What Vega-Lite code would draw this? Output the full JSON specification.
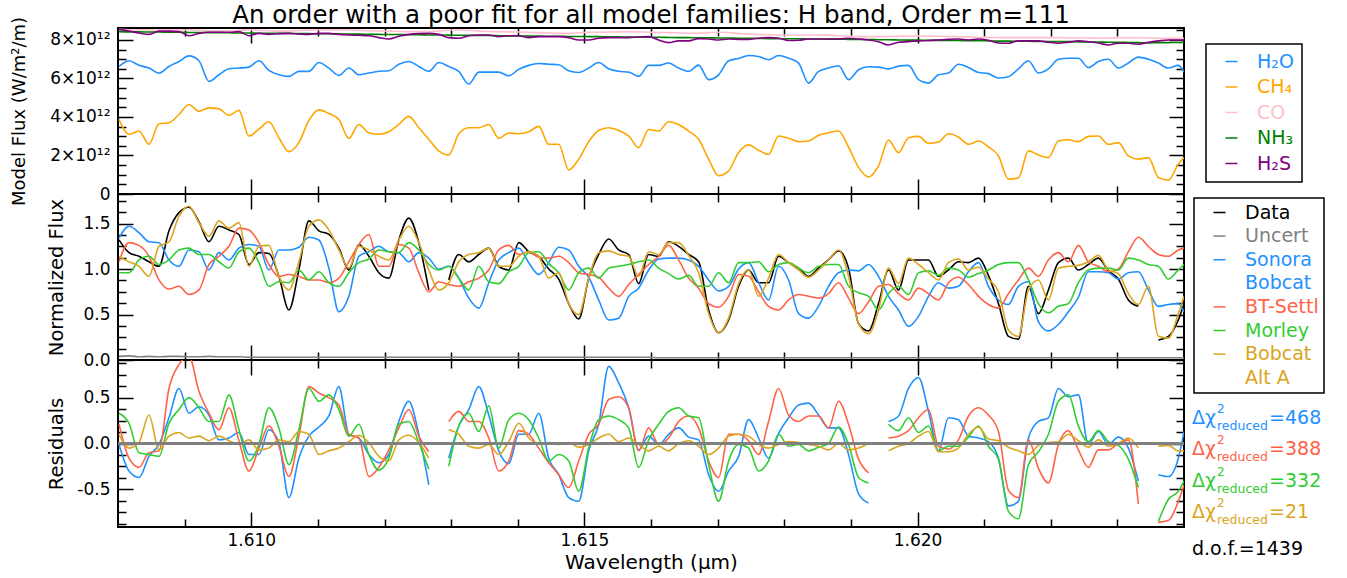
{
"$schema": "https://vega.github.io/schema/vega-lite/v6.json",
"padding": {"left": 9, "top": 1, "right": 5, "bottom": 0},
"bounds": "flush",
"config": {
  "font": "DejaVu Sans",
  "view": {"stroke": "black", "strokeWidth": 2},
  "axis": {"domain": false, "grid": false, "ticks": true, "tickColor": "black", "tickWidth": 1.5, "labelFont": "DejaVu Sans", "labelFontSize": 17, "labelColor": "black", "titleFont": "DejaVu Sans", "titleFontSize": 19.5, "titleFontWeight": "normal", "titleColor": "black", "labelOverlap": false, "labelFlush": false, "labelBound": false, "zindex": 1},
  "legend": {"labelFont": "DejaVu Sans", "labelFontSize": 19, "symbolType": "stroke", "symbolSize": 144, "symbolStrokeWidth": 1.5, "labelOffset": 16, "title": null}
},
"datasets": {
"spec": [
{"w":1.608015,"H2O":6.62,"CH4":3.87,"CO":8.55,"NH3":8.43,"H2S":8.55,"Data":1.32,"Uncert":0.04,"Sonora":1.34,"BTSettl":1.08,"Morley":0.96,"AltA":1.14,"rSonora":-0.01,"rBTSettl":0.21,"rMorley":0.33,"rAltA":0.10},
{"w":1.608165,"H2O":6.92,"CH4":3.10,"CO":8.53,"NH3":8.42,"H2S":8.46,"Data":1.18,"Uncert":0.045,"Sonora":1.47,"BTSettl":1.29,"Morley":0.96,"AltA":1.08,"rSonora":-0.30,"rBTSettl":-0.16,"rMorley":0.22,"rAltA":-0.05},
{"w":1.608315,"H2O":6.68,"CH4":3.27,"CO":8.52,"NH3":8.42,"H2S":8.36,"Data":1.14,"Uncert":0.035,"Sonora":1.40,"BTSettl":1.26,"Morley":1.10,"AltA":1.03,"rSonora":-0.37,"rBTSettl":-0.26,"rMorley":-0.10,"rAltA":0.01},
{"w":1.608465,"H2O":6.54,"CH4":2.58,"CO":8.52,"NH3":8.41,"H2S":8.29,"Data":1.08,"Uncert":0.04,"Sonora":1.30,"BTSettl":1.14,"Morley":1.14,"AltA":0.92,"rSonora":-0.14,"rBTSettl":-0.10,"rMorley":-0.12,"rAltA":0.31},
{"w":1.608615,"H2O":6.28,"CH4":3.65,"CO":8.52,"NH3":8.41,"H2S":8.46,"Data":1.03,"Uncert":0.035,"Sonora":1.29,"BTSettl":0.88,"Morley":1.05,"AltA":1.25,"rSonora":-0.01,"rBTSettl":-0.08,"rMorley":-0.14,"rAltA":-0.07},
{"w":1.608765,"H2O":6.62,"CH4":3.70,"CO":8.52,"NH3":8.40,"H2S":8.46,"Data":1.42,"Uncert":0.04,"Sonora":1.10,"BTSettl":0.78,"Morley":1.10,"AltA":1.30,"rSonora":0.28,"rBTSettl":0.60,"rMorley":0.22,"rAltA":0.08},
{"w":1.608915,"H2O":6.88,"CH4":4.13,"CO":8.52,"NH3":8.40,"H2S":8.43,"Data":1.62,"Uncert":0.04,"Sonora":1.03,"BTSettl":0.81,"Morley":1.21,"AltA":1.58,"rSonora":0.60,"rBTSettl":0.86,"rMorley":0.37,"rAltA":0.12},
{"w":1.609065,"H2O":7.17,"CH4":4.65,"CO":8.52,"NH3":8.39,"H2S":8.22,"Data":1.68,"Uncert":0.035,"Sonora":1.21,"BTSettl":0.72,"Morley":1.23,"AltA":1.69,"rSonora":0.33,"rBTSettl":0.95,"rMorley":0.50,"rAltA":0.06},
{"w":1.609215,"H2O":6.92,"CH4":4.30,"CO":8.50,"NH3":8.39,"H2S":8.34,"Data":1.52,"Uncert":0.035,"Sonora":1.19,"BTSettl":0.77,"Morley":1.16,"AltA":1.51,"rSonora":0.40,"rBTSettl":0.57,"rMorley":0.39,"rAltA":0.08},
{"w":1.609365,"H2O":5.85,"CH4":4.47,"CO":8.48,"NH3":8.38,"H2S":8.40,"Data":1.30,"Uncert":0.04,"Sonora":0.99,"BTSettl":1.05,"Morley":1.16,"AltA":1.36,"rSonora":0.31,"rBTSettl":0.33,"rMorley":0.24,"rAltA":0.03},
{"w":1.609515,"H2O":6.19,"CH4":4.42,"CO":8.47,"NH3":8.38,"H2S":8.40,"Data":1.47,"Uncert":0.035,"Sonora":1.18,"BTSettl":1.14,"Morley":1.08,"AltA":1.53,"rSonora":0.04,"rBTSettl":0.15,"rMorley":0.24,"rAltA":0.08},
{"w":1.609665,"H2O":6.50,"CH4":4.09,"CO":8.48,"NH3":8.37,"H2S":8.40,"Data":1.43,"Uncert":0.035,"Sonora":1.10,"BTSettl":1.25,"Morley":1.01,"AltA":1.45,"rSonora":0.06,"rBTSettl":0.39,"rMorley":0.53,"rAltA":0.03},
{"w":1.609815,"H2O":6.54,"CH4":4.34,"CO":8.50,"NH3":8.36,"H2S":8.43,"Data":1.38,"Uncert":0.035,"Sonora":1.23,"BTSettl":1.45,"Morley":1.19,"AltA":1.51,"rSonora":0.12,"rBTSettl":0.03,"rMorley":0.15,"rAltA":-0.01},
{"w":1.609965,"H2O":6.59,"CH4":3.01,"CO":8.52,"NH3":8.36,"H2S":8.22,"Data":1.05,"Uncert":0.03,"Sonora":1.27,"BTSettl":1.43,"Morley":1.23,"AltA":1.03,"rSonora":-0.12,"rBTSettl":-0.30,"rMorley":-0.19,"rAltA":0.04},
{"w":1.610115,"H2O":6.92,"CH4":3.37,"CO":8.50,"NH3":8.35,"H2S":8.34,"Data":1.18,"Uncert":0.03,"Sonora":1.25,"BTSettl":1.29,"Morley":1.07,"AltA":1.25,"rSonora":-0.12,"rBTSettl":-0.05,"rMorley":-0.01,"rAltA":-0.07},
{"w":1.610265,"H2O":6.42,"CH4":3.75,"CO":8.48,"NH3":8.35,"H2S":8.29,"Data":1.17,"Uncert":0.03,"Sonora":0.99,"BTSettl":1.05,"Morley":0.81,"AltA":1.26,"rSonora":0.15,"rBTSettl":0.19,"rMorley":0.39,"rAltA":-0.05},
{"w":1.610415,"H2O":6.19,"CH4":2.92,"CO":8.46,"NH3":8.34,"H2S":8.33,"Data":0.92,"Uncert":0.03,"Sonora":1.21,"BTSettl":0.92,"Morley":0.86,"AltA":0.92,"rSonora":0.01,"rBTSettl":-0.03,"rMorley":0.17,"rAltA":0.04},
{"w":1.610565,"H2O":6.11,"CH4":2.20,"CO":8.47,"NH3":8.34,"H2S":8.34,"Data":0.55,"Uncert":0.03,"Sonora":1.21,"BTSettl":0.94,"Morley":0.85,"AltA":0.77,"rSonora":-0.59,"rBTSettl":-0.36,"rMorley":-0.23,"rAltA":0.02},
{"w":1.610715,"H2O":6.37,"CH4":2.67,"CO":8.49,"NH3":8.33,"H2S":8.31,"Data":0.99,"Uncert":0.03,"Sonora":1.24,"BTSettl":0.92,"Morley":0.99,"AltA":1.08,"rSonora":-0.16,"rBTSettl":0.08,"rMorley":0.15,"rAltA":0.13},
{"w":1.610865,"H2O":6.37,"CH4":3.82,"CO":8.51,"NH3":8.33,"H2S":8.29,"Data":1.53,"Uncert":0.03,"Sonora":1.35,"BTSettl":0.88,"Morley":0.88,"AltA":1.47,"rSonora":0.08,"rBTSettl":0.62,"rMorley":0.60,"rAltA":0.10},
{"w":1.611015,"H2O":6.83,"CH4":4.37,"CO":8.52,"NH3":8.32,"H2S":8.34,"Data":1.42,"Uncert":0.03,"Sonora":1.32,"BTSettl":0.88,"Morley":0.97,"AltA":1.54,"rSonora":0.18,"rBTSettl":0.55,"rMorley":0.46,"rAltA":-0.12},
{"w":1.611165,"H2O":6.54,"CH4":4.18,"CO":8.52,"NH3":8.32,"H2S":8.34,"Data":1.38,"Uncert":0.03,"Sonora":1.01,"BTSettl":0.85,"Morley":0.85,"AltA":1.43,"rSonora":0.30,"rBTSettl":0.50,"rMorley":0.53,"rAltA":-0.08},
{"w":1.611315,"H2O":6.16,"CH4":3.87,"CO":8.52,"NH3":8.31,"H2S":8.29,"Data":1.23,"Uncert":0.03,"Sonora":0.53,"BTSettl":0.90,"Morley":0.81,"AltA":1.21,"rSonora":0.62,"rBTSettl":0.42,"rMorley":0.37,"rAltA":-0.05},
{"w":1.611465,"H2O":6.54,"CH4":2.89,"CO":8.52,"NH3":8.30,"H2S":8.26,"Data":0.99,"Uncert":0.03,"Sonora":0.70,"BTSettl":1.08,"Morley":0.96,"AltA":1.01,"rSonora":0.10,"rBTSettl":0.10,"rMorley":0.08,"rAltA":0.02},
{"w":1.611615,"H2O":6.19,"CH4":3.61,"CO":8.50,"NH3":8.30,"H2S":8.24,"Data":1.27,"Uncert":0.03,"Sonora":1.14,"BTSettl":1.27,"Morley":1.07,"AltA":1.25,"rSonora":0.06,"rBTSettl":0.06,"rMorley":0.21,"rAltA":0.09},
{"w":1.611765,"H2O":6.28,"CH4":3.18,"CO":8.48,"NH3":8.29,"H2S":8.22,"Data":1.14,"Uncert":0.03,"Sonora":1.19,"BTSettl":1.38,"Morley":1.11,"AltA":1.21,"rSonora":-0.12,"rBTSettl":-0.36,"rMorley":-0.12,"rAltA":0.01},
{"w":1.611915,"H2O":6.37,"CH4":3.10,"CO":8.47,"NH3":8.29,"H2S":8.12,"Data":0.96,"Uncert":0.03,"Sonora":1.25,"BTSettl":1.03,"Morley":1.21,"AltA":1.14,"rSonora":-0.21,"rBTSettl":-0.26,"rMorley":-0.29,"rAltA":-0.14},
{"w":1.612065,"H2O":6.40,"CH4":3.23,"CO":8.46,"NH3":8.28,"H2S":8.05,"Data":0.90,"Uncert":0.03,"Sonora":1.19,"BTSettl":1.03,"Morley":1.19,"AltA":1.10,"rSonora":-0.12,"rBTSettl":-0.07,"rMorley":-0.16,"rAltA":-0.19},
{"w":1.612215,"H2O":6.74,"CH4":3.61,"CO":8.44,"NH3":8.28,"H2S":8.19,"Data":1.32,"Uncert":0.03,"Sonora":1.18,"BTSettl":1.27,"Morley":1.18,"AltA":1.32,"rSonora":0.24,"rBTSettl":0.17,"rMorley":0.21,"rAltA":0.04},
{"w":1.612365,"H2O":6.88,"CH4":4.03,"CO":8.43,"NH3":8.27,"H2S":8.29,"Data":1.56,"Uncert":0.03,"Sonora":1.08,"BTSettl":1.23,"Morley":1.29,"AltA":1.47,"rSonora":0.46,"rBTSettl":0.37,"rMorley":0.24,"rAltA":0.09},
{"w":1.612515,"H2O":6.62,"CH4":3.44,"CO":8.43,"NH3":8.27,"H2S":8.33,"Data":1.29,"Uncert":0.03,"Sonora":1.18,"BTSettl":0.96,"Morley":1.21,"AltA":1.29,"rSonora":0.10,"rBTSettl":0.08,"rMorley":0.01,"rAltA":0.01},
{"w":1.612665,"H2O":6.37,"CH4":2.84,"CO":8.44,"NH3":8.26,"H2S":8.34,"Data":0.77,"Uncert":0.03,"Sonora":1.12,"BTSettl":0.75,"Morley":1.05,"AltA":0.99,"rSonora":-0.45,"rBTSettl":-0.09,"rMorley":-0.28,"rAltA":-0.16},
{"w":1.612815,"H2O":6.83,"CH4":2.24,"CO":8.47,"NH3":8.26,"H2S":8.29,"Data":null,"Uncert":0.03,"Sonora":1.00,"BTSettl":0.86,"Morley":0.99,"AltA":0.77,"rSonora":null,"rBTSettl":null,"rMorley":null,"rAltA":null},
{"w":1.612965,"H2O":6.62,"CH4":2.03,"CO":8.50,"NH3":8.25,"H2S":8.12,"Data":0.88,"Uncert":0.03,"Sonora":1.03,"BTSettl":0.83,"Morley":1.03,"AltA":0.85,"rSonora":-0.16,"rBTSettl":0.24,"rMorley":-0.25,"rAltA":0.15},
{"w":1.613115,"H2O":6.37,"CH4":3.13,"CO":8.52,"NH3":8.24,"H2S":8.09,"Data":1.16,"Uncert":0.03,"Sonora":0.90,"BTSettl":0.81,"Morley":0.90,"AltA":1.08,"rSonora":0.19,"rBTSettl":0.35,"rMorley":0.19,"rAltA":0.10},
{"w":1.613265,"H2O":5.71,"CH4":3.44,"CO":8.50,"NH3":8.24,"H2S":8.22,"Data":1.08,"Uncert":0.03,"Sonora":0.68,"BTSettl":0.86,"Morley":0.77,"AltA":1.16,"rSonora":0.37,"rBTSettl":0.24,"rMorley":0.33,"rAltA":-0.03},
{"w":1.613415,"H2O":6.33,"CH4":3.44,"CO":8.47,"NH3":8.23,"H2S":8.26,"Data":1.16,"Uncert":0.03,"Sonora":0.57,"BTSettl":0.90,"Morley":1.03,"AltA":1.18,"rSonora":0.62,"rBTSettl":0.24,"rMorley":0.13,"rAltA":-0.05},
{"w":1.613565,"H2O":6.33,"CH4":3.61,"CO":8.44,"NH3":8.23,"H2S":8.26,"Data":1.23,"Uncert":0.03,"Sonora":0.85,"BTSettl":0.99,"Morley":0.86,"AltA":1.23,"rSonora":0.31,"rBTSettl":0.06,"rMorley":0.41,"rAltA":-0.01},
{"w":1.613715,"H2O":6.33,"CH4":2.89,"CO":8.43,"NH3":8.22,"H2S":8.17,"Data":1.03,"Uncert":0.03,"Sonora":1.10,"BTSettl":1.21,"Morley":0.84,"AltA":1.03,"rSonora":-0.08,"rBTSettl":-0.30,"rMorley":-0.05,"rAltA":-0.12},
{"w":1.613865,"H2O":6.14,"CH4":3.17,"CO":8.42,"NH3":8.21,"H2S":8.22,"Data":0.99,"Uncert":0.03,"Sonora":1.18,"BTSettl":1.26,"Morley":0.97,"AltA":1.03,"rSonora":-0.22,"rBTSettl":-0.19,"rMorley":0.26,"rAltA":0.02},
{"w":1.614015,"H2O":6.47,"CH4":3.13,"CO":8.41,"NH3":8.21,"H2S":8.22,"Data":1.29,"Uncert":0.03,"Sonora":1.23,"BTSettl":1.16,"Morley":1.03,"AltA":1.14,"rSonora":0.10,"rBTSettl":0.14,"rMorley":0.33,"rAltA":0.22},
{"w":1.614165,"H2O":6.68,"CH4":3.23,"CO":8.40,"NH3":8.20,"H2S":8.12,"Data":1.19,"Uncert":0.03,"Sonora":1.07,"BTSettl":1.19,"Morley":1.18,"AltA":1.19,"rSonora":0.10,"rBTSettl":0.10,"rMorley":0.26,"rAltA":0.06},
{"w":1.614315,"H2O":6.78,"CH4":3.51,"CO":8.38,"NH3":8.20,"H2S":8.17,"Data":1.14,"Uncert":0.03,"Sonora":0.94,"BTSettl":1.13,"Morley":1.19,"AltA":1.14,"rSonora":0.33,"rBTSettl":-0.05,"rMorley":0.06,"rAltA":0.00},
{"w":1.614465,"H2O":6.74,"CH4":2.58,"CO":8.36,"NH3":8.19,"H2S":8.17,"Data":1.00,"Uncert":0.03,"Sonora":1.07,"BTSettl":1.12,"Morley":1.06,"AltA":0.90,"rSonora":-0.16,"rBTSettl":-0.21,"rMorley":-0.19,"rAltA":0.01},
{"w":1.614615,"H2O":6.71,"CH4":2.58,"CO":8.34,"NH3":8.19,"H2S":8.17,"Data":0.89,"Uncert":0.03,"Sonora":1.24,"BTSettl":1.14,"Morley":0.96,"AltA":0.96,"rSonora":-0.34,"rBTSettl":-0.34,"rMorley":-0.12,"rAltA":-0.01},
{"w":1.614765,"H2O":6.40,"CH4":1.25,"CO":8.34,"NH3":8.18,"H2S":8.12,"Data":0.62,"Uncert":0.03,"Sonora":1.21,"BTSettl":1.07,"Morley":0.77,"AltA":0.62,"rSonora":-0.59,"rBTSettl":-0.48,"rMorley":-0.19,"rAltA":0.01},
{"w":1.614915,"H2O":6.31,"CH4":1.81,"CO":8.37,"NH3":8.18,"H2S":8.00,"Data":0.45,"Uncert":0.03,"Sonora":1.03,"BTSettl":0.96,"Morley":0.96,"AltA":0.50,"rSonora":-0.63,"rBTSettl":-0.19,"rMorley":-0.52,"rAltA":-0.04},
{"w":1.615065,"H2O":6.54,"CH4":2.72,"CO":8.40,"NH3":8.17,"H2S":8.00,"Data":0.90,"Uncert":0.03,"Sonora":0.91,"BTSettl":0.94,"Morley":1.01,"AltA":0.90,"rSonora":-0.08,"rBTSettl":0.10,"rMorley":-0.05,"rAltA":-0.01},
{"w":1.615215,"H2O":6.83,"CH4":3.30,"CO":8.40,"NH3":8.17,"H2S":8.09,"Data":1.16,"Uncert":0.03,"Sonora":0.66,"BTSettl":0.91,"Morley":0.90,"AltA":1.18,"rSonora":0.21,"rBTSettl":0.21,"rMorley":0.26,"rAltA":0.06},
{"w":1.615365,"H2O":6.50,"CH4":3.44,"CO":8.41,"NH3":8.16,"H2S":8.12,"Data":1.33,"Uncert":0.03,"Sonora":0.44,"BTSettl":0.79,"Morley":1.01,"AltA":1.20,"rSonora":0.84,"rBTSettl":0.48,"rMorley":0.30,"rAltA":0.10},
{"w":1.615515,"H2O":6.37,"CH4":3.30,"CO":8.42,"NH3":8.16,"H2S":8.12,"Data":1.21,"Uncert":0.03,"Sonora":0.46,"BTSettl":0.70,"Morley":1.03,"AltA":1.16,"rSonora":0.66,"rBTSettl":0.51,"rMorley":0.26,"rAltA":0.02},
{"w":1.615665,"H2O":6.33,"CH4":3.01,"CO":8.43,"NH3":8.15,"H2S":8.12,"Data":1.16,"Uncert":0.03,"Sonora":0.70,"BTSettl":0.83,"Morley":1.05,"AltA":1.14,"rSonora":0.39,"rBTSettl":0.39,"rMorley":0.17,"rAltA":0.06},
{"w":1.615815,"H2O":6.11,"CH4":2.41,"CO":8.42,"NH3":8.15,"H2S":8.15,"Data":0.84,"Uncert":0.03,"Sonora":0.79,"BTSettl":0.94,"Morley":1.08,"AltA":0.92,"rSonora":-0.07,"rBTSettl":-0.08,"rMorley":-0.26,"rAltA":-0.01},
{"w":1.615965,"H2O":6.68,"CH4":3.35,"CO":8.40,"NH3":8.14,"H2S":8.17,"Data":1.16,"Uncert":0.03,"Sonora":0.99,"BTSettl":1.05,"Morley":1.10,"AltA":1.19,"rSonora":0.08,"rBTSettl":0.17,"rMorley":0.04,"rAltA":-0.08},
{"w":1.616115,"H2O":6.68,"CH4":3.27,"CO":8.39,"NH3":8.14,"H2S":8.00,"Data":1.14,"Uncert":0.025,"Sonora":1.11,"BTSettl":1.14,"Morley":1.01,"AltA":1.16,"rSonora":-0.01,"rBTSettl":-0.01,"rMorley":0.21,"rAltA":-0.03},
{"w":1.616265,"H2O":6.80,"CH4":3.75,"CO":8.38,"NH3":8.13,"H2S":7.86,"Data":1.30,"Uncert":0.025,"Sonora":1.12,"BTSettl":1.26,"Morley":0.95,"AltA":1.29,"rSonora":0.10,"rBTSettl":0.06,"rMorley":0.35,"rAltA":-0.08},
{"w":1.616415,"H2O":6.54,"CH4":3.61,"CO":8.36,"NH3":8.12,"H2S":7.95,"Data":1.25,"Uncert":0.025,"Sonora":1.12,"BTSettl":1.10,"Morley":0.89,"AltA":1.29,"rSonora":0.17,"rBTSettl":0.24,"rMorley":0.39,"rAltA":0.00},
{"w":1.616565,"H2O":6.37,"CH4":3.27,"CO":8.35,"NH3":8.12,"H2S":7.95,"Data":1.16,"Uncert":0.025,"Sonora":1.10,"BTSettl":0.90,"Morley":0.93,"AltA":1.15,"rSonora":0.07,"rBTSettl":0.30,"rMorley":0.30,"rAltA":0.03},
{"w":1.616715,"H2O":6.69,"CH4":2.84,"CO":8.36,"NH3":8.11,"H2S":8.07,"Data":1.08,"Uncert":0.025,"Sonora":1.03,"BTSettl":0.79,"Morley":0.81,"AltA":0.96,"rSonora":0.04,"rBTSettl":0.17,"rMorley":0.28,"rAltA":-0.03},
{"w":1.616865,"H2O":5.94,"CH4":1.81,"CO":8.38,"NH3":8.11,"H2S":8.05,"Data":0.55,"Uncert":0.025,"Sonora":0.88,"BTSettl":0.62,"Morley":0.81,"AltA":0.51,"rSonora":-0.34,"rBTSettl":-0.19,"rMorley":-0.23,"rAltA":-0.12},
{"w":1.617015,"H2O":6.19,"CH4":0.95,"CO":8.40,"NH3":8.10,"H2S":8.00,"Data":0.30,"Uncert":0.025,"Sonora":0.76,"BTSettl":0.58,"Morley":0.96,"AltA":0.30,"rSonora":-0.52,"rBTSettl":-0.37,"rMorley":-0.63,"rAltA":-0.05},
{"w":1.617165,"H2O":6.92,"CH4":1.20,"CO":8.38,"NH3":8.10,"H2S":8.05,"Data":0.44,"Uncert":0.025,"Sonora":0.81,"BTSettl":0.70,"Morley":0.85,"AltA":0.46,"rSonora":-0.30,"rBTSettl":0.10,"rMorley":-0.19,"rAltA":0.08},
{"w":1.617315,"H2O":7.04,"CH4":2.15,"CO":8.34,"NH3":8.09,"H2S":8.03,"Data":0.81,"Uncert":0.025,"Sonora":1.00,"BTSettl":0.94,"Morley":1.07,"AltA":0.84,"rSonora":-0.14,"rBTSettl":0.10,"rMorley":-0.01,"rAltA":0.10},
{"w":1.617465,"H2O":7.19,"CH4":2.55,"CO":8.30,"NH3":8.09,"H2S":8.02,"Data":0.99,"Uncert":0.025,"Sonora":1.07,"BTSettl":0.92,"Morley":1.07,"AltA":0.99,"rSonora":0.26,"rBTSettl":0.03,"rMorley":-0.05,"rAltA":0.08},
{"w":1.617615,"H2O":7.14,"CH4":2.27,"CO":8.28,"NH3":8.08,"H2S":8.09,"Data":0.85,"Uncert":0.025,"Sonora":0.85,"BTSettl":0.75,"Morley":1.08,"AltA":0.70,"rSonora":0.06,"rBTSettl":-0.12,"rMorley":-0.30,"rAltA":-0.01},
{"w":1.617765,"H2O":6.97,"CH4":2.06,"CO":8.27,"NH3":8.07,"H2S":8.12,"Data":0.85,"Uncert":0.025,"Sonora":0.66,"BTSettl":0.59,"Morley":0.97,"AltA":0.90,"rSonora":-0.16,"rBTSettl":0.24,"rMorley":-0.19,"rAltA":-0.05},
{"w":1.617915,"H2O":7.19,"CH4":3.01,"CO":8.26,"NH3":8.07,"H2S":8.09,"Data":1.14,"Uncert":0.025,"Sonora":1.03,"BTSettl":0.55,"Morley":1.05,"AltA":1.16,"rSonora":0.11,"rBTSettl":0.60,"rMorley":0.10,"rAltA":-0.01},
{"w":1.618065,"H2O":7.05,"CH4":2.89,"CO":8.26,"NH3":8.06,"H2S":7.97,"Data":1.07,"Uncert":0.025,"Sonora":0.88,"BTSettl":0.66,"Morley":1.07,"AltA":1.07,"rSonora":0.28,"rBTSettl":0.31,"rMorley":-0.03,"rAltA":0.02},
{"w":1.618215,"H2O":6.80,"CH4":2.72,"CO":8.26,"NH3":8.06,"H2S":7.98,"Data":1.01,"Uncert":0.025,"Sonora":0.51,"BTSettl":0.72,"Morley":1.01,"AltA":0.99,"rSonora":0.42,"rBTSettl":0.24,"rMorley":-0.01,"rAltA":0.01},
{"w":1.618365,"H2O":5.76,"CH4":2.75,"CO":8.26,"NH3":8.05,"H2S":8.05,"Data":0.92,"Uncert":0.025,"Sonora":0.46,"BTSettl":0.70,"Morley":0.96,"AltA":0.91,"rSonora":0.44,"rBTSettl":0.30,"rMorley":-0.08,"rAltA":-0.01},
{"w":1.618515,"H2O":6.37,"CH4":3.05,"CO":8.26,"NH3":8.05,"H2S":8.05,"Data":1.01,"Uncert":0.025,"Sonora":0.59,"BTSettl":0.68,"Morley":1.03,"AltA":0.99,"rSonora":0.31,"rBTSettl":0.30,"rMorley":-0.04,"rAltA":-0.03},
{"w":1.618665,"H2O":6.54,"CH4":3.18,"CO":8.25,"NH3":8.04,"H2S":8.05,"Data":1.10,"Uncert":0.025,"Sonora":0.81,"BTSettl":0.73,"Morley":1.05,"AltA":1.10,"rSonora":0.17,"rBTSettl":0.17,"rMorley":0.00,"rAltA":-0.07},
{"w":1.618815,"H2O":6.66,"CH4":3.27,"CO":8.22,"NH3":8.04,"H2S":8.05,"Data":1.20,"Uncert":0.025,"Sonora":0.96,"BTSettl":0.85,"Morley":1.05,"AltA":1.21,"rSonora":0.17,"rBTSettl":0.46,"rMorley":0.18,"rAltA":0.00},
{"w":1.618965,"H2O":5.94,"CH4":2.44,"CO":8.19,"NH3":8.03,"H2S":8.09,"Data":1.01,"Uncert":0.025,"Sonora":0.99,"BTSettl":0.68,"Morley":0.81,"AltA":0.92,"rSonora":-0.12,"rBTSettl":0.21,"rMorley":-0.01,"rAltA":-0.07},
{"w":1.619115,"H2O":6.45,"CH4":1.38,"CO":8.17,"NH3":8.02,"H2S":8.05,"Data":0.40,"Uncert":0.025,"Sonora":0.98,"BTSettl":0.51,"Morley":0.74,"AltA":0.40,"rSonora":-0.55,"rBTSettl":-0.17,"rMorley":-0.37,"rAltA":-0.05},
{"w":1.619265,"H2O":6.61,"CH4":0.89,"CO":8.17,"NH3":8.02,"H2S":8.00,"Data":0.32,"Uncert":0.025,"Sonora":1.05,"BTSettl":0.64,"Morley":0.70,"AltA":0.29,"rSonora":-0.65,"rBTSettl":-0.32,"rMorley":-0.43,"rAltA":0.00},
{"w":1.619415,"H2O":6.59,"CH4":1.46,"CO":8.17,"NH3":8.01,"H2S":7.91,"Data":0.62,"Uncert":0.025,"Sonora":0.92,"BTSettl":0.81,"Morley":0.55,"AltA":0.55,"rSonora":null,"rBTSettl":null,"rMorley":null,"rAltA":null},
{"w":1.619565,"H2O":6.50,"CH4":2.80,"CO":8.18,"NH3":8.01,"H2S":7.74,"Data":0.99,"Uncert":0.025,"Sonora":0.70,"BTSettl":0.83,"Morley":0.73,"AltA":1.01,"rSonora":0.24,"rBTSettl":0.06,"rMorley":0.21,"rAltA":-0.08},
{"w":1.619715,"H2O":6.64,"CH4":2.15,"CO":8.19,"NH3":8.00,"H2S":7.88,"Data":0.77,"Uncert":0.025,"Sonora":0.55,"BTSettl":0.73,"Morley":0.81,"AltA":0.84,"rSonora":0.30,"rBTSettl":0.08,"rMorley":0.14,"rAltA":-0.03},
{"w":1.619865,"H2O":6.68,"CH4":2.92,"CO":8.20,"NH3":7.99,"H2S":7.91,"Data":1.10,"Uncert":0.025,"Sonora":0.37,"BTSettl":0.66,"Morley":0.72,"AltA":1.12,"rSonora":0.60,"rBTSettl":0.14,"rMorley":0.28,"rAltA":0.00},
{"w":1.620015,"H2O":5.94,"CH4":2.99,"CO":8.21,"NH3":7.99,"H2S":7.95,"Data":1.10,"Uncert":0.025,"Sonora":0.48,"BTSettl":0.79,"Morley":0.96,"AltA":1.05,"rSonora":0.72,"rBTSettl":0.28,"rMorley":0.12,"rAltA":0.08},
{"w":1.620165,"H2O":5.76,"CH4":2.63,"CO":8.20,"NH3":7.98,"H2S":7.97,"Data":1.10,"Uncert":0.025,"Sonora":0.70,"BTSettl":0.73,"Morley":0.98,"AltA":0.96,"rSonora":0.35,"rBTSettl":0.37,"rMorley":0.19,"rAltA":0.13},
{"w":1.620315,"H2O":6.19,"CH4":2.70,"CO":8.19,"NH3":7.98,"H2S":8.00,"Data":0.92,"Uncert":0.025,"Sonora":0.85,"BTSettl":0.66,"Morley":0.93,"AltA":0.88,"rSonora":-0.08,"rBTSettl":-0.03,"rMorley":-0.08,"rAltA":-0.09},
{"w":1.620465,"H2O":6.28,"CH4":3.13,"CO":8.18,"NH3":7.97,"H2S":8.03,"Data":0.99,"Uncert":0.025,"Sonora":0.79,"BTSettl":0.85,"Morley":1.01,"AltA":1.07,"rSonora":0.28,"rBTSettl":-0.06,"rMorley":-0.03,"rAltA":-0.09},
{"w":1.620615,"H2O":6.74,"CH4":2.96,"CO":8.17,"NH3":7.97,"H2S":8.05,"Data":1.08,"Uncert":0.025,"Sonora":0.81,"BTSettl":0.91,"Morley":0.99,"AltA":1.11,"rSonora":0.26,"rBTSettl":0.04,"rMorley":-0.03,"rAltA":-0.05},
{"w":1.620765,"H2O":6.57,"CH4":2.58,"CO":8.16,"NH3":7.96,"H2S":8.00,"Data":1.07,"Uncert":0.025,"Sonora":0.97,"BTSettl":0.83,"Morley":0.91,"AltA":0.99,"rSonora":0.08,"rBTSettl":0.30,"rMorley":0.07,"rAltA":0.10},
{"w":1.620915,"H2O":6.31,"CH4":2.75,"CO":8.14,"NH3":7.96,"H2S":8.05,"Data":1.12,"Uncert":0.025,"Sonora":1.07,"BTSettl":0.70,"Morley":0.95,"AltA":1.02,"rSonora":0.06,"rBTSettl":0.39,"rMorley":0.19,"rAltA":0.18},
{"w":1.621065,"H2O":6.25,"CH4":2.44,"CO":8.13,"NH3":7.95,"H2S":7.98,"Data":0.93,"Uncert":0.025,"Sonora":0.81,"BTSettl":0.61,"Morley":0.99,"AltA":0.89,"rSonora":0.02,"rBTSettl":0.31,"rMorley":-0.03,"rAltA":0.05},
{"w":1.621215,"H2O":6.02,"CH4":1.98,"CO":8.12,"NH3":7.94,"H2S":7.84,"Data":0.62,"Uncert":0.025,"Sonora":0.66,"BTSettl":0.57,"Morley":1.05,"AltA":0.75,"rSonora":-0.16,"rBTSettl":0.13,"rMorley":-0.17,"rAltA":0.03},
{"w":1.621365,"H2O":6.09,"CH4":0.77,"CO":8.12,"NH3":7.94,"H2S":7.83,"Data":0.26,"Uncert":0.025,"Sonora":0.61,"BTSettl":0.73,"Morley":1.07,"AltA":0.33,"rSonora":-0.68,"rBTSettl":-0.51,"rMorley":-0.74,"rAltA":-0.04},
{"w":1.621515,"H2O":6.50,"CH4":0.83,"CO":8.12,"NH3":7.93,"H2S":7.95,"Data":0.23,"Uncert":0.025,"Sonora":0.81,"BTSettl":0.88,"Morley":1.07,"AltA":0.26,"rSonora":-0.63,"rBTSettl":-0.59,"rMorley":-0.82,"rAltA":-0.08},
{"w":1.621665,"H2O":6.92,"CH4":2.24,"CO":8.12,"NH3":7.93,"H2S":7.95,"Data":0.81,"Uncert":0.025,"Sonora":0.86,"BTSettl":1.01,"Morley":0.88,"AltA":0.77,"rSonora":0.06,"rBTSettl":0.04,"rMorley":-0.23,"rAltA":-0.12},
{"w":1.621815,"H2O":6.28,"CH4":2.03,"CO":8.12,"NH3":7.92,"H2S":7.95,"Data":0.51,"Uncert":0.025,"Sonora":0.42,"BTSettl":0.92,"Morley":0.62,"AltA":0.88,"rSonora":0.24,"rBTSettl":-0.27,"rMorley":-0.09,"rAltA":-0.02},
{"w":1.621965,"H2O":6.50,"CH4":1.89,"CO":8.12,"NH3":7.92,"H2S":7.88,"Data":0.77,"Uncert":0.025,"Sonora":0.32,"BTSettl":1.10,"Morley":0.52,"AltA":0.66,"rSonora":0.28,"rBTSettl":-0.43,"rMorley":0.10,"rAltA":0.01},
{"w":1.622115,"H2O":7.00,"CH4":2.75,"CO":8.12,"NH3":7.91,"H2S":7.83,"Data":1.07,"Uncert":0.025,"Sonora":0.39,"BTSettl":1.18,"Morley":0.59,"AltA":1.01,"rSonora":0.60,"rBTSettl":-0.01,"rMorley":0.46,"rAltA":0.02},
{"w":1.622265,"H2O":7.05,"CH4":2.82,"CO":8.11,"NH3":7.91,"H2S":7.88,"Data":1.12,"Uncert":0.025,"Sonora":0.53,"BTSettl":1.08,"Morley":0.62,"AltA":1.03,"rSonora":0.51,"rBTSettl":0.14,"rMorley":0.53,"rAltA":0.10},
{"w":1.622415,"H2O":7.05,"CH4":2.72,"CO":8.10,"NH3":7.90,"H2S":7.95,"Data":0.99,"Uncert":0.025,"Sonora":0.69,"BTSettl":1.26,"Morley":0.85,"AltA":1.04,"rSonora":0.53,"rBTSettl":-0.07,"rMorley":0.19,"rAltA":0.03},
{"w":1.622565,"H2O":6.57,"CH4":2.99,"CO":8.10,"NH3":7.89,"H2S":7.91,"Data":1.05,"Uncert":0.025,"Sonora":0.97,"BTSettl":1.08,"Morley":0.99,"AltA":1.08,"rSonora":-0.01,"rBTSettl":-0.26,"rMorley":0.02,"rAltA":-0.04},
{"w":1.622715,"H2O":6.88,"CH4":3.01,"CO":8.09,"NH3":7.89,"H2S":7.84,"Data":1.12,"Uncert":0.025,"Sonora":0.97,"BTSettl":1.03,"Morley":1.01,"AltA":1.15,"rSonora":0.13,"rBTSettl":-0.07,"rMorley":0.14,"rAltA":0.04},
{"w":1.622865,"H2O":7.00,"CH4":2.58,"CO":8.10,"NH3":7.88,"H2S":7.74,"Data":0.98,"Uncert":0.025,"Sonora":0.96,"BTSettl":0.97,"Morley":1.01,"AltA":0.99,"rSonora":-0.01,"rBTSettl":-0.07,"rMorley":0.02,"rAltA":-0.03},
{"w":1.623015,"H2O":6.54,"CH4":2.67,"CO":8.11,"NH3":7.88,"H2S":7.83,"Data":0.89,"Uncert":0.025,"Sonora":0.89,"BTSettl":1.00,"Morley":0.99,"AltA":0.95,"rSonora":0.07,"rBTSettl":0.00,"rMorley":-0.02,"rAltA":0.00},
{"w":1.623165,"H2O":6.80,"CH4":1.98,"CO":8.12,"NH3":7.87,"H2S":7.83,"Data":0.66,"Uncert":0.025,"Sonora":0.96,"BTSettl":1.19,"Morley":1.12,"AltA":0.73,"rSonora":-0.05,"rBTSettl":0.04,"rMorley":-0.17,"rAltA":0.06},
{"w":1.623315,"H2O":7.11,"CH4":1.81,"CO":8.11,"NH3":7.86,"H2S":7.78,"Data":0.59,"Uncert":0.025,"Sonora":0.97,"BTSettl":1.35,"Morley":1.10,"AltA":0.61,"rSonora":-0.41,"rBTSettl":-0.66,"rMorley":-0.48,"rAltA":-0.05},
{"w":1.623465,"H2O":7.00,"CH4":1.89,"CO":8.10,"NH3":7.85,"H2S":7.88,"Data":null,"Uncert":0.025,"Sonora":0.77,"BTSettl":1.25,"Morley":1.05,"AltA":0.81,"rSonora":null,"rBTSettl":null,"rMorley":null,"rAltA":null},
{"w":1.623615,"H2O":6.80,"CH4":0.86,"CO":8.09,"NH3":7.86,"H2S":7.95,"Data":0.22,"Uncert":0.025,"Sonora":0.59,"BTSettl":1.16,"Morley":1.03,"AltA":0.26,"rSonora":-0.34,"rBTSettl":-0.86,"rMorley":-0.85,"rAltA":-0.03},
{"w":1.623765,"H2O":6.54,"CH4":0.72,"CO":8.09,"NH3":7.86,"H2S":8.00,"Data":0.26,"Uncert":0.025,"Sonora":0.61,"BTSettl":1.14,"Morley":0.89,"AltA":0.24,"rSonora":-0.36,"rBTSettl":-0.84,"rMorley":-0.61,"rAltA":-0.02},
{"w":1.623915,"H2O":6.68,"CH4":1.55,"CO":8.09,"NH3":7.87,"H2S":8.00,"Data":0.44,"Uncert":0.025,"Sonora":0.62,"BTSettl":1.21,"Morley":0.99,"AltA":0.51,"rSonora":-0.16,"rBTSettl":-0.63,"rMorley":-0.52,"rAltA":-0.08},
{"w":1.624,"H2O":6.33,"CH4":1.89,"CO":8.09,"NH3":7.87,"H2S":8.00,"Data":0.62,"Uncert":0.025,"Sonora":0.53,"BTSettl":1.23,"Morley":1.05,"AltA":0.70,"rSonora":0.13,"rBTSettl":-0.45,"rMorley":-0.41,"rAltA":-0.08}
],
"chi": [
{"model":"Sonora","chi2":468,"row":1},
{"model":"BTSettl","chi2":388,"row":2},
{"model":"Morley","chi2":332,"row":3},
{"model":"AltA","chi2":21,"row":4}
],
"dof": [{"label":"d.o.f.=1439","row":5}]
},
"spacing": 0,
"resolve": {"scale": {"color": "independent", "y": "independent"}},
"vconcat": [
{
  "data": {"name": "spec"},
  "transform": [{"fold": ["H2O","CH4","CO","NH3","H2S"], "as": ["model","flux"]}],
  "width": 1066, "height": 166,
  "title": {"text": "An order with a poor fit for all model families: H band, Order m=111", "anchor": "middle", "frame": "group", "fontSize": 24.5, "fontWeight": "normal", "color": "black", "offset": 0, "dy": 12},
  "layer": [
    {"mark": {"type": "line", "strokeWidth": 1.6, "interpolate": "monotone", "clip": true},
     "encoding": {
       "x": {"field": "w", "type": "quantitative", "scale": {"domain": [1.608, 1.624], "nice": false, "zero": false},
             "axis": {"orient": "bottom", "values": [1.609,1.61,1.611,1.612,1.613,1.614,1.615,1.616,1.617,1.618,1.619,1.62,1.621,1.622,1.623], "labels": false, "title": null, "tickSize": {"condition": {"test": "round(datum.value*1000) % 5 == 0", "value": -15}, "value": -8}}},
       "y": {"field": "flux", "type": "quantitative", "scale": {"domain": [0, 8.62], "nice": false, "zero": false},
             "axis": {"orient": "left", "values": [0,0.5,1,1.5,2,2.5,3,3.5,4,4.5,5,5.5,6,6.5,7,7.5,8], "title": "Model Flux (W/m²/m)", "titleFontSize": 18, "labelExpr": "datum.value % 2 == 0 ? (datum.value == 0 ? '0' : datum.value + '×10¹²') : ''", "tickSize": {"condition": {"test": "datum.value % 2 == 0", "value": -15}, "value": -8}, "labelPadding": 23, "titlePadding": 21}},
       "color": {"field": "model", "type": "nominal",
                 "scale": {"domain": ["H2O","CH4","CO","NH3","H2S"], "range": ["#1E90FF","#FFA500","#FFC0CB","#008000","#800080"]},
                 "legend": {"orient": "none", "legendX": 1088, "legendY": 16, "padding": 8, "symbolOffset": 8, "rowPadding": 5.5,
                            "labelExpr": "datum.value=='H2O'?'H₂O':datum.value=='CH4'?'CH₄':datum.value=='NH3'?'NH₃':datum.value=='H2S'?'H₂S':datum.value",
                            "encode": {"labels": {"update": {"fill": {"signal": "datum.value=='H2O'?'#1E90FF':datum.value=='CH4'?'#FFA500':datum.value=='CO'?'#FFC0CB':datum.value=='NH3'?'#008000':'#800080'"}}},
                                       "legend": {"update": {"stroke": {"value": "black"}, "strokeWidth": {"value": 1.5}}}}}}
     }},
    {"mark": {"type": "line", "opacity": 0},
     "encoding": {
       "x": {"field": "w", "type": "quantitative", "axis": {"orient": "top", "values": [1.609,1.61,1.611,1.612,1.613,1.614,1.615,1.616,1.617,1.618,1.619,1.62,1.621,1.622,1.623], "labels": false, "title": null, "tickSize": {"condition": {"test": "round(datum.value*1000) % 5 == 0", "value": -15}, "value": -8}}},
       "y": {"field": "flux", "type": "quantitative", "axis": {"orient": "right", "values": [0,0.5,1,1.5,2,2.5,3,3.5,4,4.5,5,5.5,6,6.5,7,7.5,8,8.5], "labels": false, "title": null, "tickSize": {"condition": {"test": "datum.value % 2 == 0", "value": -15}, "value": -8}}}
     }}
  ],
  "resolve": {"axis": {"x": "independent", "y": "independent"}}
},
{
  "data": {"name": "spec"},
  "transform": [{"fold": ["Uncert","Data","Sonora","BTSettl","Morley","AltA"], "as": ["model","flux"]}],
  "width": 1066, "height": 166,
  "layer": [
    {"mark": {"type": "line", "strokeWidth": 1.6, "interpolate": "monotone", "clip": true, "invalid": "break-paths-show-domains"},
     "encoding": {
       "x": {"field": "w", "type": "quantitative", "scale": {"domain": [1.608, 1.624], "nice": false, "zero": false},
             "axis": {"orient": "bottom", "values": [1.609,1.61,1.611,1.612,1.613,1.614,1.615,1.616,1.617,1.618,1.619,1.62,1.621,1.622,1.623], "labels": false, "title": null, "tickSize": {"condition": {"test": "round(datum.value*1000) % 5 == 0", "value": -15}, "value": -8}}},
       "y": {"field": "flux", "type": "quantitative", "scale": {"domain": [0, 1.825], "nice": false, "zero": false},
             "axis": {"orient": "left", "values": [0,0.125,0.25,0.375,0.5,0.625,0.75,0.875,1,1.125,1.25,1.375,1.5,1.625,1.75], "title": "Normalized Flux", "labelExpr": "round(datum.value*1000) % 500 == 0 ? format(datum.value, '.1f') : ''", "tickSize": {"condition": {"test": "round(datum.value*1000) % 500 == 0", "value": -15}, "value": -8}, "labelPadding": 23, "titlePadding": 16}},
       "color": {"field": "model", "type": "nominal",
                 "scale": {"domain": ["Data","Uncert","Sonora","Bobcat2","BTSettl","Morley","AltA","AltA2"], "range": ["#000000","#808080","#1E90FF","#1E90FF","#FF6347","#32CD32","#DAA520","#DAA520"]},
                 "legend": {"orient": "none", "legendX": 1076, "legendY": 4, "padding": 5, "symbolOffset": 11, "rowPadding": 3.6,
                            "labelExpr": "datum.value=='Bobcat2'?'Bobcat':datum.value=='BTSettl'?'BT-Settl':datum.value=='AltA'?'Bobcat':datum.value=='AltA2'?'Alt A':datum.value",
                            "encode": {"labels": {"update": {"fill": {"signal": "datum.value=='Data'?'#000000':datum.value=='Uncert'?'#808080':(datum.value=='Sonora'||datum.value=='Bobcat2')?'#1E90FF':datum.value=='BTSettl'?'#FF6347':datum.value=='Morley'?'#32CD32':'#DAA520'"}}},
                                       "symbols": {"update": {"opacity": {"signal": "(datum.value=='Bobcat2'||datum.value=='AltA2')?0:1"}}},
                                       "legend": {"update": {"stroke": {"value": "black"}, "strokeWidth": {"value": 1.5}}}}}}
     }},
    {"mark": {"type": "line", "opacity": 0},
     "encoding": {
       "x": {"field": "w", "type": "quantitative", "axis": {"orient": "top", "values": [1.609,1.61,1.611,1.612,1.613,1.614,1.615,1.616,1.617,1.618,1.619,1.62,1.621,1.622,1.623], "labels": false, "title": null, "tickSize": {"condition": {"test": "round(datum.value*1000) % 5 == 0", "value": -15}, "value": -8}}},
       "y": {"field": "flux", "type": "quantitative", "axis": {"orient": "right", "values": [0,0.125,0.25,0.375,0.5,0.625,0.75,0.875,1,1.125,1.25,1.375,1.5,1.625,1.75], "labels": false, "title": null, "tickSize": {"condition": {"test": "round(datum.value*1000) % 500 == 0", "value": -15}, "value": -8}}}
     }}
  ],
  "resolve": {"axis": {"x": "independent", "y": "independent"}}
},
{
  "spacing": 0,
  "bounds": "flush",
  "resolve": {"scale": {"color": "independent", "y": "independent"}},
  "hconcat": [
    {
      "data": {"name": "spec"},
      "transform": [{"fold": ["rSonora","rBTSettl","rMorley","rAltA"], "as": ["model","resid"]}],
      "width": 1066, "height": 167,
      "layer": [
        {"mark": {"type": "line", "strokeWidth": 1.6, "interpolate": "monotone", "clip": true, "invalid": "break-paths-show-domains"},
         "encoding": {
           "x": {"field": "w", "type": "quantitative", "scale": {"domain": [1.608, 1.624], "nice": false, "zero": false},
                 "axis": {"orient": "bottom", "values": [1.609,1.61,1.611,1.612,1.613,1.614,1.615,1.616,1.617,1.618,1.619,1.62,1.621,1.622,1.623], "title": "Wavelength (μm)", "titleFontSize": 20, "labelExpr": "round(datum.value*1000) % 5 == 0 ? format(datum.value, '.3f') : ''", "tickSize": {"condition": {"test": "round(datum.value*1000) % 5 == 0", "value": -15}, "value": -8}, "labelPadding": 20, "titlePadding": -3}},
           "y": {"field": "resid", "type": "quantitative", "scale": {"domain": [-0.91, 0.91], "nice": false, "zero": false},
                 "axis": {"orient": "left", "values": [-0.875,-0.75,-0.625,-0.5,-0.375,-0.25,-0.125,0,0.125,0.25,0.375,0.5,0.625,0.75,0.875], "title": "Residuals", "labelExpr": "round(abs(datum.value)*1000) % 500 == 0 ? (datum.value < 0 ? '-' + format(-datum.value, '.1f') : format(datum.value, '.1f')) : ''", "tickSize": {"condition": {"test": "round(abs(datum.value)*1000) % 500 == 0", "value": -15}, "value": -8}, "labelPadding": 23, "titlePadding": 10}},
           "color": {"field": "model", "type": "nominal", "scale": {"domain": ["rSonora","rBTSettl","rMorley","rAltA"], "range": ["#1E90FF","#FF6347","#32CD32","#DAA520"]}, "legend": null}
         }},
        {"mark": {"type": "line", "opacity": 0},
         "encoding": {
           "x": {"field": "w", "type": "quantitative", "axis": {"orient": "top", "values": [1.609,1.61,1.611,1.612,1.613,1.614,1.615,1.616,1.617,1.618,1.619,1.62,1.621,1.622,1.623], "labels": false, "title": null, "tickSize": {"condition": {"test": "round(datum.value*1000) % 5 == 0", "value": -15}, "value": -8}}},
           "y": {"field": "resid", "type": "quantitative", "axis": {"orient": "right", "values": [-0.875,-0.75,-0.625,-0.5,-0.375,-0.25,-0.125,0,0.125,0.25,0.375,0.5,0.625,0.75,0.875], "labels": false, "title": null, "tickSize": {"condition": {"test": "round(abs(datum.value)*1000) % 500 == 0", "value": -15}, "value": -8}}}
         }},
        {"mark": {"type": "rule", "color": "#808080", "strokeWidth": 1.5},
         "encoding": {"y": {"datum": 0, "type": "quantitative", "axis": null}}}
      ],
      "resolve": {"axis": {"x": "independent", "y": "independent"}}
    },
    {
      "width": 16, "height": 167,
      "view": {"stroke": null},
      "layer": [
        {"data": {"name": "chi"}, "mark": {"type": "text", "text": "Δχ", "align": "left", "baseline": "middle", "fontSize": 19},
         "encoding": {"y": {"field": "row", "type": "quantitative", "scale": {"domain": [-0.835, 4.467], "reverse": true, "nice": false, "zero": false}, "axis": null},
                      "color": {"field": "model", "type": "nominal", "scale": {"domain": ["Sonora","BTSettl","Morley","AltA"], "range": ["#1E90FF","#FF6347","#32CD32","#DAA520"]}, "legend": null}}},
        {"data": {"name": "chi"}, "mark": {"type": "text", "text": "2", "align": "left", "baseline": "middle", "fontSize": 12, "dx": 25, "dy": -9},
         "encoding": {"y": {"field": "row", "type": "quantitative"}, "color": {"field": "model", "type": "nominal", "legend": null}}},
        {"data": {"name": "chi"}, "mark": {"type": "text", "text": "reduced", "align": "left", "baseline": "middle", "fontSize": 12.5, "dx": 25, "dy": 8},
         "encoding": {"y": {"field": "row", "type": "quantitative"}, "color": {"field": "model", "type": "nominal", "legend": null}}},
        {"data": {"name": "chi"}, "mark": {"type": "text", "text": "=", "align": "left", "baseline": "middle", "fontSize": 19, "dx": 77},
         "encoding": {"y": {"field": "row", "type": "quantitative"}, "color": {"field": "model", "type": "nominal", "legend": null}}},
        {"data": {"name": "chi"}, "mark": {"type": "text", "align": "left", "baseline": "middle", "fontSize": 19, "dx": 93},
         "encoding": {"y": {"field": "row", "type": "quantitative"}, "text": {"field": "chi2", "type": "quantitative"}, "color": {"field": "model", "type": "nominal", "legend": null}}},
        {"data": {"name": "dof"}, "mark": {"type": "text", "align": "left", "baseline": "middle", "fontSize": 19, "dy": 5, "color": "black"},
         "encoding": {"y": {"field": "row", "type": "quantitative"}, "text": {"field": "label", "type": "nominal"}}}
      ]
    }
  ]
}
]
}
